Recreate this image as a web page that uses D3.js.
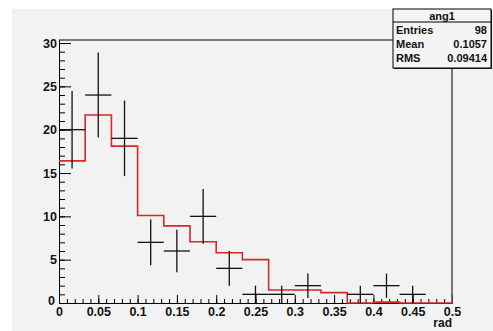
<!DOCTYPE html>
<html>
<head>
<meta charset="utf-8">
<script src="https://cdn.jsdelivr.net/npm/d3@7"></script>
<style>
  body { margin: 0; background: #fff; }
  svg { display: block; font-family: "Liberation Sans", Arial, sans-serif; font-weight: bold; }
  .axis text { font-size: 12.5px; fill: #111; font-family: "Liberation Sans", Arial, sans-serif; font-weight: bold; }
  .axis line, .axis path { stroke: #000; }
</style>
</head>
<body>
<svg id="chart" width="493" height="331"></svg>
<script>
// bin edges (15 bins of width 1/30 between 0 and 0.5)
var binLow = [0, 0.0333, 0.0667, 0.1, 0.1333, 0.1667, 0.2, 0.2333, 0.2667, 0.3, 0.3333, 0.3667, 0.4, 0.4333, 0.4667];
var binWidth = 0.0333;
// data points (counts) and their errors
var counts = [20, 24, 19, 7, 6, 10, 4, 1, 1, 2, 0, 1, 2, 1, 0];
var errors = [4.47, 4.9, 4.36, 2.65, 2.45, 3.16, 2, 1, 1, 1.41, 0, 1, 1.41, 1, 0];
// red reference histogram
var refHist = [16.4, 21.7, 18.1, 10.1, 8.9, 7.07, 5.8, 5.0, 1.5, 1.5, 1.2, 0, 0.1, 0, 0];
// axis ticks
var xMajor = [0, 0.05, 0.1, 0.15, 0.2, 0.25, 0.3, 0.35, 0.4, 0.45, 0.5];
var xLabels = ["0", "0.05", "0.1", "0.15", "0.2", "0.25", "0.3", "0.35", "0.4", "0.45", "0.5"];
var yMajor = [0, 5, 10, 15, 20, 25, 30];
var yLabels = ["0", "5", "10", "15", "20", "25", "30"];
// stats box
var statNames = ["Entries", "Mean", "RMS"];
var statValues = ["98", "0.1057", "0.09414"];

(function() {
var svg = d3.select('#chart');
var padL = 59, padR = 452, padT = 40, padB = 303;

var x = d3.scaleLinear().domain([0, 0.5]).range([padL, padR]);
var y = d3.scaleLinear().domain([0, 30.35]).range([padB, padT]);

// canvas background
svg.append("rect").attr("x", 12).attr("y", 9).attr("width", 481).attr("height", 322)
    .style("fill", "#f2f2f2");

// minor ticks
var xMinor = d3.range(0, 0.5001, 0.01);
var yMinor = d3.range(0, 30.5, 1);

svg.append("g").attr("class", "axis")
    .attr("transform", "translate(0," + padB + ")")
    .call(d3.axisBottom(x).tickValues(xMinor).tickSizeInner(-4).tickSizeOuter(0).tickFormat(""));
svg.append("g").attr("class", "axis")
    .attr("transform", "translate(" + padL + ",0)")
    .call(d3.axisLeft(y).tickValues(yMinor).tickSizeInner(-6).tickSizeOuter(0).tickFormat(""));

svg.append("g").attr("class", "axis")
    .attr("transform", "translate(0," + padB + ")")
    .call(d3.axisBottom(x).tickValues(xMajor).tickSizeInner(-8).tickSizeOuter(0).tickPadding(4)
        .tickFormat(function(d, i) { return xLabels[i]; }));
var yAxis = svg.append("g").attr("class", "axis")
    .attr("transform", "translate(" + padL + ",0)")
    .call(d3.axisLeft(y).tickValues(yMajor).tickSizeInner(-12).tickSizeOuter(0).tickPadding(2)
        .tickFormat(function(d, i) { return yLabels[i]; }));
// ROOT shifts the zero label of the y axis
yAxis.selectAll(".tick text").filter(function(d) { return d === 0; })
    .attr("x", -4).attr("dy", "0.1em");

// frame top and right
svg.append("line").attr("x1", padL).attr("x2", padR).attr("y1", padT).attr("y2", padT)
    .style("stroke", "#000").style("stroke-width", 1);
svg.append("line").attr("x1", padR).attr("x2", padR).attr("y1", padT).attr("y2", padB)
    .style("stroke", "#555").style("stroke-width", 1.6);

// red histogram
var stepPts = refHist.map(function(v, i) { return [binLow[i], v]; });
stepPts.push([0.5, refHist[refHist.length - 1]]);
var stepLine = d3.line()
    .x(function(d) { return x(d[0]); })
    .y(function(d) { return y(d[1]); })
    .curve(d3.curveStepAfter);
svg.append("path").attr("d", stepLine(stepPts))
    .style("fill", "none").style("stroke", "#d42a2a").style("stroke-width", 1.6);

// data points with error bars
var pts = svg.append("g").selectAll("g")
    .data(counts.map(function(c, i) { return { lo: binLow[i], c: c, e: errors[i] }; })
        .filter(function(d) { return d.c > 0; }))
    .enter().append("g")
    .style("stroke", "#111").style("stroke-width", 1.3);
pts.append("line")
    .attr("x1", function(d) { return x(d.lo); })
    .attr("x2", function(d) { return x(d.lo + binWidth); })
    .attr("y1", function(d) { return y(d.c); })
    .attr("y2", function(d) { return y(d.c); });
pts.append("line")
    .attr("x1", function(d) { return x(d.lo + binWidth / 2); })
    .attr("x2", function(d) { return x(d.lo + binWidth / 2); })
    .attr("y1", function(d) { return y(d.c - d.e); })
    .attr("y2", function(d) { return y(d.c + d.e); });

// x axis title
svg.append("text").attr("x", padR).attr("y", 327).attr("text-anchor", "end")
    .style("font-size", "12px").style("fill", "#111").text("rad");

// stats box
var bx = 393, by = 9, bw = 98, bh = 59;
svg.append("rect").attr("x", bx + 1).attr("y", by + 1).attr("width", bw).attr("height", bh)
    .style("fill", "#222");
svg.append("rect").attr("x", bx).attr("y", by).attr("width", bw).attr("height", bh)
    .style("fill", "#f4f4f4").style("stroke", "#000").style("stroke-width", 1);
svg.append("line").attr("x1", bx).attr("x2", bx + bw).attr("y1", 22).attr("y2", 22)
    .style("stroke", "#000");
svg.append("text").attr("x", bx + bw / 2).attr("y", 20).attr("text-anchor", "middle")
    .style("font-size", "11px").style("fill", "#111").text("ang1");
statNames.forEach(function(n, i) {
    var yy = 33.5 + i * 14;
    svg.append("text").attr("x", bx + 3).attr("y", yy)
        .style("font-size", "11px").style("fill", "#111").text(n);
    svg.append("text").attr("x", bx + bw - 4).attr("y", yy).attr("text-anchor", "end")
        .style("font-size", "11px").style("fill", "#111").text(statValues[i]);
});
})();
</script>
</body>
</html>
